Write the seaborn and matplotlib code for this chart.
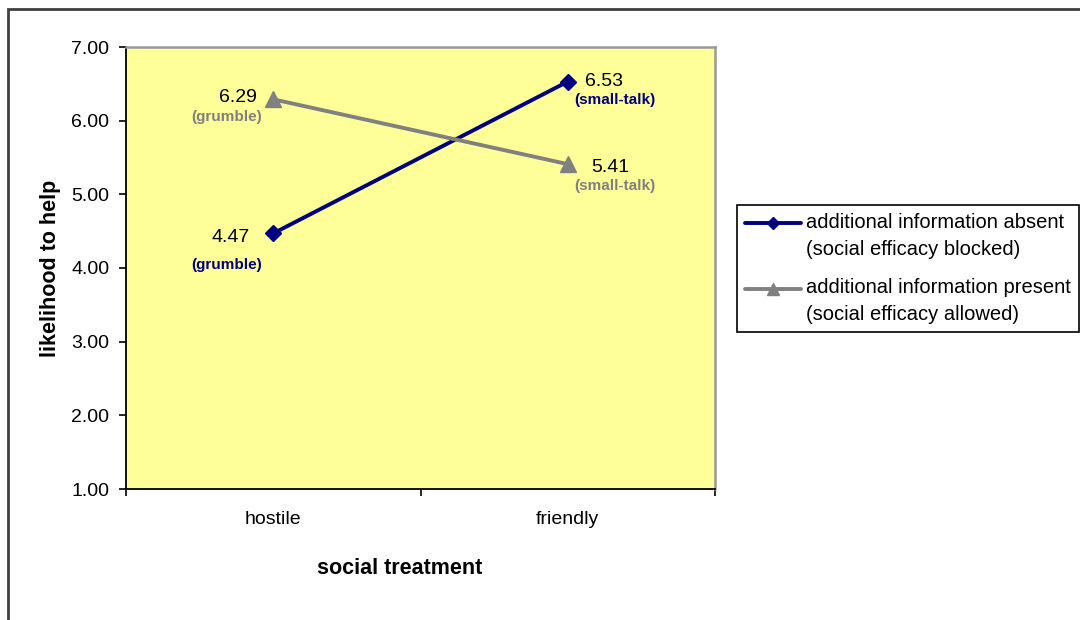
import numpy as np
import pandas as pd
import matplotlib
matplotlib.use("Agg")
import matplotlib.pyplot as plt
from matplotlib.patches import Rectangle
import seaborn as sns

# Data
treatments = ["hostile", "friendly"]
absent_values = [4.47, 6.53]
present_values = [6.29, 5.41]
absent_label = "additional information absent\n(social efficacy blocked)"
present_label = "additional information present\n(social efficacy allowed)"
absent_notes = ["(grumble)", "(small-talk)"]
present_notes = ["(grumble)", "(small-talk)"]
y_ticks = [1.0, 2.0, 3.0, 4.0, 5.0, 6.0, 7.0]

NAVY = "#000080"
GREY = "#808080"

df = pd.DataFrame({
    "treatment": treatments * 2,
    "likelihood": absent_values + present_values,
    "condition": [absent_label] * 2 + [present_label] * 2,
})

sns.set_style("white")
plt.rcParams["font.family"] = ["Liberation Sans", "DejaVu Sans"]
plt.rcParams["text.color"] = "black"
plt.rcParams["axes.labelcolor"] = "black"
plt.rcParams["xtick.color"] = "black"
plt.rcParams["ytick.color"] = "black"

fig = plt.figure(figsize=(10.8, 6.2), dpi=100)
W, H = 1080, 620
ax = fig.add_axes([126 / W, 1 - 489 / H, 589 / W, 442 / H])
ax.set_facecolor("#FFFF99")

sns.lineplot(
    data=df, x="treatment", y="likelihood", hue="condition", style="condition",
    palette={absent_label: NAVY, present_label: GREY},
    markers={absent_label: "D", present_label: "^"},
    dashes=False, sort=False, legend=False, ax=ax, linewidth=2.8,
)
lines = ax.get_lines()
for ln, ms in zip(lines, [8.5, 11.5]):
    ln.set_markeredgecolor(ln.get_color())
    ln.set_markerfacecolor(ln.get_color())
    ln.set_markersize(ms)
    ln.set_markeredgewidth(1.0)

ax.set_xlim(-0.5, 1.5)
ax.set_ylim(1, 7)
ax.set_yticks(y_ticks)
ax.set_yticklabels([f"{v:.2f}" for v in y_ticks])
ax.set_xticks([-0.5, 0.5, 1.5])
ax.set_xticklabels([])
ax.set_xticks([0, 1], minor=True)
ax.set_xticklabels(treatments, minor=True)
ax.tick_params(axis="x", which="major", direction="out", length=5, width=1.2,
               color="black", bottom=True)
ax.tick_params(axis="x", which="minor", length=0, pad=16, labelsize=14)
ax.tick_params(axis="y", direction="out", length=5, width=1.2, color="black",
               left=True, pad=7, labelsize=14)

for side in ["left", "bottom"]:
    ax.spines[side].set_color("black")
    ax.spines[side].set_linewidth(1.3)
for side in ["top", "right"]:
    ax.spines[side].set_color("#999999")
    ax.spines[side].set_linewidth(1.8)

ax.set_xlabel("social treatment", fontsize=15.5, fontweight="bold")
ax.set_ylabel("likelihood to help", fontsize=15.5, fontweight="bold")
ax.xaxis.set_label_coords((400 - 126) / 589, (489 - 558) / 442)
ax.yaxis.set_label_coords((61 - 126) / 589, 0.5)

# Value and condition annotations beside each point
def note(x, y, text, dx, dy, color, ha, size, weight="normal"):
    ax.annotate(text, xy=(x, y), xytext=(dx, dy), textcoords="offset pixels",
                ha=ha, va="center", fontsize=size, color=color, fontweight=weight)

note(0, absent_values[0], f"{absent_values[0]:.2f}", -24, -4, "black", "right", 14)
note(0, absent_values[0], absent_notes[0], -11, -32, NAVY, "right", 11, "bold")
note(1, absent_values[1], f"{absent_values[1]:.2f}", 17, 0, "black", "left", 14)
note(1, absent_values[1], absent_notes[1], 47, -18, NAVY, "center", 11, "bold")
note(0, present_values[0], f"{present_values[0]:.2f}", -16, 2, "black", "right", 14)
note(0, present_values[0], present_notes[0], -11, -18, GREY, "right", 11, "bold")
note(1, present_values[1], f"{present_values[1]:.2f}", 23, -3, "black", "left", 14)
note(1, present_values[1], present_notes[1], 47, -22, GREY, "center", 11, "bold")

leg = fig.legend(
    handles=lines, labels=[absent_label, present_label],
    loc="upper left", bbox_to_anchor=(737 / W, 1 - 205 / H),
    bbox_transform=fig.transFigure, borderaxespad=0, fontsize=14.5,
    frameon=True, fancybox=False, edgecolor="black", framealpha=1,
    handlelength=2.8, handletextpad=0.25, borderpad=0.4, labelspacing=0.98,
)
leg.get_frame().set_linewidth(1.2)
for t in leg.get_texts():
    t.set_linespacing(1.5)
for h in leg.legend_handles:
    h.set_ydata(np.asarray(h.get_ydata()) + 9.2)
    h.set_markersize(h.get_markersize() * 0.7)

# Outer chart frame
fig.add_artist(Rectangle((8 / W, -0.1), 2.0, 1 - 9 / H + 0.1,
                         transform=fig.transFigure, fill=False,
                         edgecolor="#404040", linewidth=2))

fig.savefig("out.png", dpi=100)
